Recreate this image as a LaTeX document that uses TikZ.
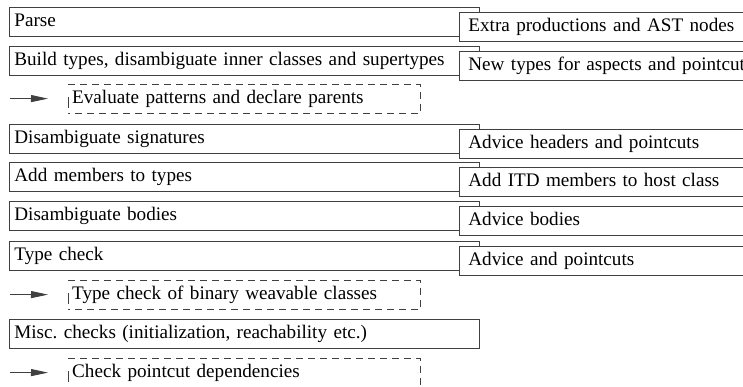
\documentclass[tikz,border=0pt]{standalone}
\usepackage{fontspec}
\setmainfont{Liberation Serif}
\usetikzlibrary{arrows.meta}
\definecolor{edge}{gray}{0.25}
\begin{document}
\frenchspacing
\begin{tikzpicture}[x=1pt,y=-1pt,
  every node/.style={font=\fontsize{19.15}{23}\selectfont, inner ysep=0pt,
    text height=19pt, text depth=10pt, anchor=north west, align=left},
  phase/.style={draw=edge, line width=0.8pt, fill=white, inner xsep=5pt, text width=460pt},
  extra/.style={draw=edge, line width=0.8pt, fill=white, inner xsep=9pt, text width=300pt},
  sub/.style={inner xsep=4pt, text width=344pt},
  dashline/.style={draw=edge, line width=0.8pt, dash pattern=on 7pt off 5pt},
  leftdash/.style={draw=edge, line width=0.8pt, dash pattern=on 11pt off 18pt, dash phase=16pt},
  arr/.style={draw=edge, line width=0.8pt, -{Triangle[length=17pt,width=7pt]}, shorten >=20pt}]
\useasboundingbox (0,0) rectangle (743,387);
\clip (0,0) rectangle (743,387);

% compiler phases (left) with the aspect-specific extensions (right)
\node[phase] (parse) at (9,7)   {Parse};
\node[extra] (xparse) at (459,12) {Extra productions and AST nodes};
\node[phase] (build) at (9,46)  {Build types, disambiguate inner classes and supertypes};
\node[extra] (xbuild) at (459,51) {New types for aspects and pointcuts};
\node[sub]   (d1) at (68,84)   {Evaluate patterns and declare parents};
\node[phase] (sig) at (9,124)   {Disambiguate signatures};
\node[extra] (xsig) at (459,129) {Advice headers and pointcuts};
\node[phase] (mem) at (9,162)   {Add members to types};
\node[extra] (xmem) at (459,167) {Add ITD members to host class};
\node[phase] (bod) at (9,201)   {Disambiguate bodies};
\node[extra] (xbod) at (459,206) {Advice bodies};
\node[phase] (tc) at (9,241)    {Type check};
\node[extra] (xtc) at (459,246) {Advice and pointcuts};
\node[sub]   (d2) at (68,280)  {Type check of binary weavable classes};
\node[phase] (misc) at (9,319)  {Misc. checks (initialization, reachability etc.)};
\node[sub]   (d3) at (68,358)  {Check pointcut dependencies};

% dashed outlines of the inserted passes
\foreach \n in {d1,d2,d3} {
  \draw[dashline] (\n.north west) -- (\n.north east) -- (\n.south east) -- (\n.south west);
  \draw[leftdash] (\n.north west) -- (\n.south west);
}

% arrows marking the inserted passes
\coordinate (s1) at (10,98.5);
\coordinate (s2) at (10,294.5);
\coordinate (s3) at (10,372.5);
\draw[arr] (s1) -- (d1.west);
\draw[arr] (s2) -- (d2.west);
\draw[arr] (s3) -- (d3.west);
\end{tikzpicture}
\end{document}
